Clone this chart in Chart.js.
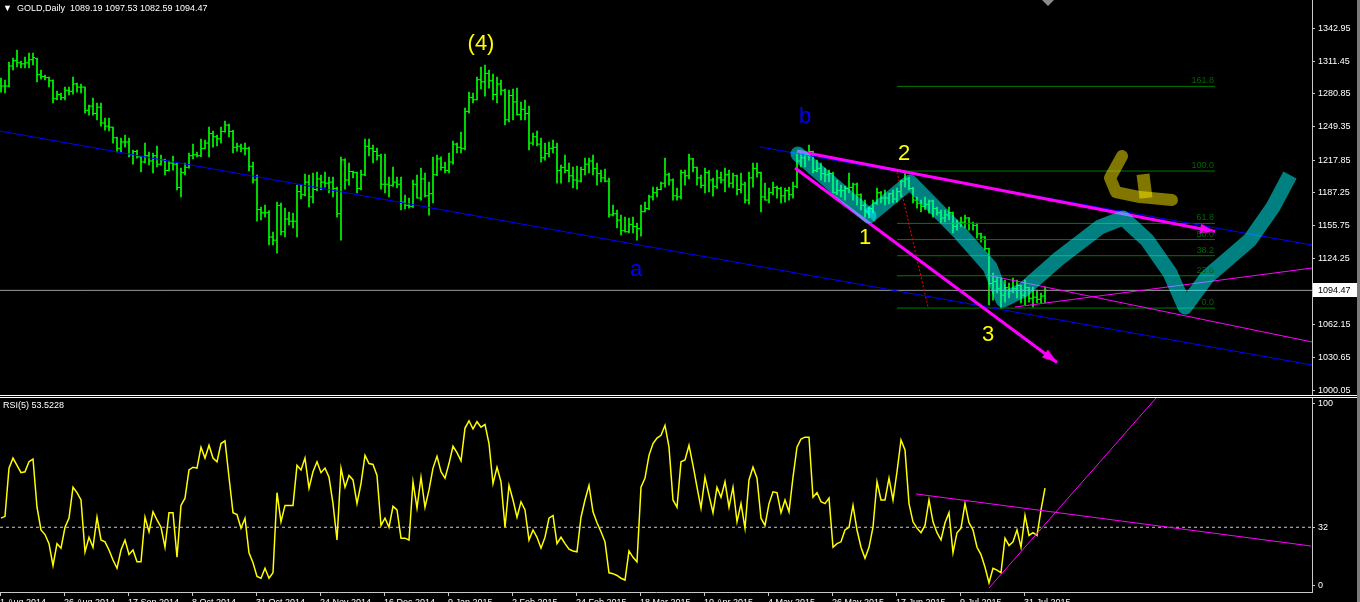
<!DOCTYPE html>
<html>
<head>
<meta charset="utf-8">
<title>GOLD Daily</title>
<script src="https://cdn.jsdelivr.net/npm/chart.js@4.4.0/dist/chart.umd.min.js"></script>
<style>
  html, body { margin: 0; padding: 0; background: #000; overflow: hidden; }
  #wrap { position: relative; width: 1360px; height: 602px; overflow: hidden; background: #000; }
  #mainBox { position: absolute; left: 0; top: 0; }
  #rsiBox { position: absolute; left: 0; top: 398px; }
  .sep { position: absolute; left: 0; width: 1357px; height: 1px; background: #fff; }
  .lbl { position: absolute; color: #fff; font: 9px "Liberation Sans", Arial, sans-serif; white-space: pre; }
  #edge { position: absolute; left: 1357px; top: 0; width: 3px; height: 602px; background: #7a7a7a; }
  #shift { position: absolute; left: 1042px; top: 0; width: 0; height: 0;
           border-left: 6px solid transparent; border-right: 6px solid transparent; border-top: 6px solid #8a8a8a; }
</style>
</head>
<body>
<div id="wrap">
  <div id="mainBox"><canvas id="mainChart" width="1360" height="395"></canvas></div>
  <div id="rsiBox"><canvas id="rsiChart" width="1360" height="215"></canvas></div>
  <div class="sep" style="top:395px"></div>
  <div class="sep" style="top:397px"></div>
  <div id="edge"></div>
  <div id="shift"></div>
  <div class="lbl" style="left:3px;top:3px;">▼  GOLD,Daily  1089.19 1097.53 1082.59 1094.47</div>
  <div class="lbl" style="left:3px;top:400px;">RSI(5) 53.5228</div>
</div>
<script>
// daily bars, 4 Aug 2014 .. 7 Aug 2015
const opens = [
  1293,1288,1288,1307,1312,1310,1309,1310,1313,1314,
  1299,1297,1296,1293,1276,1280,1277,1284,1283,1290,
  1287,1287,1265,1269,1262,1268,1253,1250,1249,1239,
  1229,1235,1235,1223,1226,1221,1216,1222,1217,1222,
  1214,1218,1208,1215,1214,1192,1206,1211,1222,1223,
  1222,1229,1234,1243,1240,1238,1245,1251,1245,1230,
  1231,1229,1229,1212,1199,1171,1168,1168,1145,1142,
  1175,1150,1162,1160,1160,1188,1185,1197,1183,1190,
  1200,1197,1196,1197,1191,1167,1218,1199,1207,1206,
  1191,1204,1231,1229,1226,1222,1195,1195,1194,1197,
  1195,1178,1175,1174,1195,1182,1200,1184,1186,1204,
  1219,1211,1208,1216,1233,1230,1229,1264,1277,1275,
  1294,1292,1300,1293,1280,1290,1284,1256,1279,1273,
  1261,1266,1262,1234,1240,1233,1220,1224,1229,1230,
  1208,1211,1208,1203,1199,1198,1209,1214,1217,1210,
  1205,1201,1198,1166,1167,1161,1151,1150,1157,1155,
  1153,1169,1172,1183,1187,1190,1196,1204,1199,1184,
  1183,1206,1203,1219,1211,1201,1194,1206,1199,1193,
  1201,1199,1204,1196,1203,1190,1195,1180,1201,1210,
  1206,1183,1180,1187,1192,1191,1184,1189,1185,1193,
  1217,1220,1223,1226,1208,1210,1205,1204,1205,1187,
  1189,1189,1191,1192,1195,1185,1175,1169,1172,1177,
  1187,1182,1182,1186,1181,1188,1198,1200,1191,1180,
  1177,1174,1176,1179,1172,1168,1163,1166,1168,1155,
  1158,1159,1163,1158,1156,1148,1145,1134,1101,1103,
  1096,1090,1097,1094,1096,1099,1090,1097,1087,1088,
  1086,1089.19
];
const highs = [
  1295.6,1293.7,1310.7,1314.5,1322.1,1311.7,1315.5,1319.3,1319.3,1314.5,
  1303.2,1298.4,1296.5,1293.9,1283.3,1281.4,1287.1,1287.1,1296.5,1290.9,
  1289.9,1287.1,1270.0,1276.6,1271.9,1271.9,1257.7,1257.7,1249.2,1239.7,
  1238.8,1241.6,1238.8,1227.4,1227.4,1221.5,1234.0,1225.5,1224.6,1231.2,
  1222.7,1218.9,1217.0,1221.7,1215.1,1210.3,1215.1,1224.6,1233.1,1225.5,
  1237.8,1236.9,1249.2,1245.4,1241.6,1249.2,1254.9,1252.0,1246.0,1234.0,
  1233.1,1234.0,1230.2,1216.0,1203.7,1173.4,1175.3,1170.0,1149.7,1178.1,
  1177.2,1172.4,1168.7,1167.7,1194.2,1194.2,1204.7,1203.7,1205.6,1206.6,
  1203.7,1206.6,1201.8,1201.8,1192.3,1220.8,1219.0,1215.1,1207.5,1206.6,
  1208.4,1237.8,1237.8,1232.1,1229.3,1223.6,1223.6,1201.8,1211.3,1201.8,
  1201.8,1184.8,1181.9,1199.0,1203.7,1210.3,1205.6,1197.1,1220.8,1222.7,
  1221.0,1216.0,1224.6,1235.9,1234.0,1244.4,1267.2,1282.3,1281.4,1296.5,
  1306.0,1307.9,1303.2,1299.4,1296.5,1293.7,1285.2,1284.2,1285.2,1286.1,
  1272.9,1274.8,1269.1,1243.5,1245.4,1238.8,1234.0,1235.0,1236.9,1234.0,
  1213.2,1222.7,1215.1,1211.3,1212.2,1211.3,1219.8,1219.8,1222.7,1215.1,
  1208.4,1209.4,1200.9,1175.3,1170.6,1165.8,1163.9,1163.0,1163.9,1158.3,
  1175.3,1178.1,1184.8,1192.3,1192.3,1197.1,1219.8,1205.6,1200.0,1191.4,
  1208.4,1208.4,1223.6,1219.5,1211.3,1203.7,1210.3,1208.0,1200.9,1208.4,
  1206.6,1210.3,1208.4,1205.6,1203.7,1205.6,1197.1,1206.6,1215.1,1215.1,
  1206.5,1196.1,1191.4,1197.1,1193.3,1192.3,1191.4,1192.3,1197.1,1224.6,
  1227.4,1224.6,1232.1,1226.5,1217.9,1215.1,1210.3,1208.4,1206.6,1199.0,
  1194.2,1193.3,1205.6,1196.0,1196.0,1186.0,1180.0,1173.4,1180.0,1191.4,
  1188.0,1189.5,1186.7,1189.5,1191.4,1199.0,1205.6,1201.8,1192.0,1182.9,
  1180.0,1182.9,1180.0,1180.0,1173.4,1170.6,1170.6,1173.4,1168.7,1161.1,
  1163.9,1165.8,1163.5,1159.2,1158.3,1148.8,1145.5,1134.6,1110.9,1107.1,
  1106.1,1104.3,1101.4,1106.1,1104.3,1099.5,1104.3,1097.6,1097.6,1094.8,
  1092.0,1097.53
];
const lows = [
  1282.3,1281.4,1287.1,1303.2,1306.0,1305.1,1305.1,1305.1,1307.9,1291.8,
  1294.6,1293.7,1287.1,1271.9,1274.8,1274.8,1274.8,1279.5,1280.4,1282.3,
  1281.4,1262.4,1260.5,1260.5,1255.8,1250.1,1246.3,1245.4,1234.0,1225.5,
  1225.5,1230.2,1220.8,1214.1,1219.8,1206.6,1215.1,1213.2,1205.6,1211.3,
  1213.0,1203.7,1207.5,1208.4,1189.5,1182.9,1203.7,1210.3,1218.9,1220.8,
  1221.0,1228.5,1220.8,1230.2,1231.2,1234.0,1244.4,1239.7,1224.6,1226.4,
  1225.5,1222.7,1207.5,1196.1,1160.1,1161.1,1164.0,1137.4,1137.4,1129.8,
  1146.9,1145.0,1156.4,1153.5,1145.0,1181.0,1184.0,1173.4,1177.2,1189.0,
  1189.5,1192.3,1186.7,1182.9,1163.9,1142.1,1190.4,1194.2,1200.9,1186.7,
  1189.5,1203.0,1221.7,1215.1,1217.9,1190.4,1186.7,1182.9,1193.0,1191.4,
  1170.6,1171.5,1172.4,1173.0,1181.9,1180.0,1183.0,1165.8,1177.2,1203.0,
  1208.4,1205.6,1205.6,1214.0,1224.6,1224.6,1227.4,1262.4,1271.9,1274.8,
  1285.2,1278.5,1286.1,1274.8,1271.9,1279.5,1251.1,1254.0,1255.8,1260.5,
  1255.8,1255.8,1227.4,1232.1,1231.2,1216.0,1217.9,1220.8,1224.6,1196.1,
  1196.1,1205.6,1197.1,1191.4,1190.4,1197.0,1203.7,1205.6,1203.7,1194.2,
  1197.1,1197.1,1163.9,1164.9,1153.5,1146.9,1149.7,1148.8,1148.8,1142.1,
  1145.9,1168.7,1171.0,1180.0,1182.9,1189.5,1192.3,1194.2,1180.0,1180.0,
  1181.0,1194.2,1200.0,1206.6,1194.2,1191.4,1186.7,1187.6,1183.8,1191.0,
  1196.1,1187.6,1192.3,1191.4,1184.8,1186.7,1177.2,1176.0,1192.3,1201.8,
  1168.7,1180.0,1177.2,1184.8,1181.9,1177.2,1178.1,1180.0,1181.9,1191.4,
  1211.3,1211.3,1217.9,1205.6,1206.6,1199.0,1197.1,1197.1,1186.7,1185.0,
  1182.9,1180.0,1186.7,1180.0,1175.3,1170.6,1163.9,1163.0,1167.7,1176.0,
  1177.2,1175.3,1176.3,1177.2,1178.1,1182.9,1192.3,1189.5,1177.2,1172.4,
  1168.7,1171.0,1167.7,1163.9,1165.8,1158.3,1159.2,1161.1,1148.8,1151.6,
  1154.5,1153.5,1151.6,1151.6,1144.0,1140.2,1132.7,1080.6,1085.3,1092.0,
  1077.7,1083.4,1087.2,1092.0,1087.2,1082.5,1080.6,1083.4,1078.7,1082.5,
  1082.5,1082.59
];
const closes = [
  1288,1288,1307,1312,1310,1309,1310,1313,1315,1299,
  1297,1296,1293,1276,1280,1277,1284,1283,1290,1287,
  1287,1265,1269,1262,1268,1253,1250,1249,1239,1229,
  1235,1235,1223,1226,1221,1216,1222,1217,1222,1214,
  1218,1208,1215,1214,1192,1206,1211,1222,1223,1222,
  1229,1234,1243,1240,1238,1245,1251,1245,1230,1231,
  1229,1229,1212,1199,1171,1168,1168,1145,1142,1175,
  1150,1162,1160,1160,1188,1185,1197,1183,1190,1200,
  1197,1196,1197,1191,1167,1218,1199,1207,1206,1191,
  1204,1231,1229,1226,1222,1195,1195,1194,1197,1195,
  1178,1175,1174,1195,1182,1200,1184,1186,1204,1219,
  1211,1208,1216,1233,1230,1229,1264,1277,1275,1294,
  1292,1300,1293,1280,1290,1284,1256,1279,1273,1261,
  1266,1262,1234,1240,1233,1220,1224,1229,1230,1208,
  1211,1208,1203,1199,1198,1209,1214,1217,1210,1205,
  1201,1198,1166,1167,1161,1151,1150,1157,1155,1153,
  1169,1172,1183,1187,1190,1196,1204,1199,1184,1183,
  1206,1203,1219,1211,1201,1194,1206,1199,1193,1201,
  1199,1204,1196,1203,1190,1195,1180,1201,1210,1206,
  1183,1180,1187,1192,1191,1184,1189,1185,1193,1217,
  1220,1223,1226,1208,1210,1205,1204,1205,1187,1189,
  1189,1191,1192,1195,1185,1175,1169,1172,1177,1187,
  1182,1182,1186,1181,1188,1198,1200,1191,1180,1177,
  1174,1176,1179,1172,1168,1163,1166,1168,1155,1158,
  1159,1163,1158,1156,1148,1145,1134,1101,1103,1096,
  1090,1097,1094,1096,1099,1090,1097,1087,1088,1086,
  1089,1094.47
];
const rsiValues = [
  37,38,64.5,70,66,62,62.5,68,69.5,43,
  30.5,28,23,11,23,20.5,32,37,54,51,
  47,18.5,26.5,21,37.5,25,24,19.5,14,9.5,
  19.5,25,17,19.5,13,13,37.5,29.5,40.5,36,
  32,21,40,40,15.5,44,48,63.5,65,64.5,
  76,70,77,70,68,78,79.5,59.5,40,39,
  31.5,37,18,12.5,5,4,9.5,4,7,51,
  35,44,44,44,66,63.5,70,53.5,62.5,68,
  62,64.5,59.5,45,25,64.5,54,60.5,58,45,
  56,71.5,67,66.5,60.5,33,37,32,43.5,41.5,
  26,26,25,57,42.5,59.5,43,52.5,64.5,71,
  62.5,59,67,76.5,73,68.5,86.5,90.5,86,90,
  87,88.5,78,56,65,57,32,55,47,37.5,
  46,41.5,25,30.5,26.5,20.5,26.5,37,38.5,23,
  26.5,23,20,19,18.5,37.5,47,55,40.5,34.5,
  29.5,24,7,6.5,5.5,4,3,19,15.5,13,
  54,59,71.5,78,81,82.5,88,76,47,43,
  68,69,77,66,54,42.5,59.5,49.5,40,54,
  48.5,57,43,54,35,45,31.5,58,65,59,
  37,33,45,51.5,51,40,47,40.5,59.5,76,
  80.5,81.5,81.5,48.5,51,46,45,48,21,23,
  24,30.5,32,44,30.5,21,15,21,32,57,
  47,47,59,47,62.5,80,74.5,45,35,31.5,
  29,33,47,35,29,25,34.5,40,18,29,
  31.5,45,34.5,30.5,21,17,10,1.5,9.5,8.5,
  7,26,22,24,30.5,21,38.5,27.5,29,27.5,
  41.5,53.5228
];

const dateLabels = ['1 Aug 2014','26 Aug 2014','17 Sep 2014','8 Oct 2014','31 Oct 2014',
  '24 Nov 2014','16 Dec 2014','9 Jan 2015','2 Feb 2015','24 Feb 2015','18 Mar 2015',
  '10 Apr 2015','4 May 2015','26 May 2015','17 Jun 2015','9 Jul 2015','31 Jul 2015'];
const priceTicks = [1342.95,1311.45,1280.85,1249.35,1217.85,1187.25,1155.75,1124.25,1062.15,1030.65,1000.05];
const rsiTicks = [0, 32, 100];
const rsiLevel = 32;

const fibLabels = ['0.0','23.6','38.2','50.0','61.8','100.0','161.8'];
const fibPrices = [1077.7,1108.3,1127.3,1142.6,1157.9,1207.5,1287.7];

// hand drawn objects, in bar index / price units
const fibFrom = 224, fibTo = 303.5;
const blueLineA = [{x:-0.25,y:1245.4},{x:327.75,y:1023.8}];
const blueLineB = [{x:189.75,y:1230.3},{x:327.75,y:1137.4}];
const arrowUp = [{x:199,y:1226.5},{x:303.5,y:1150.2}];
const arrowDown = [{x:198.5,y:1210.4},{x:264,y:1026.1}];
const thinTop = [{x:246.5,y:1109.0},{x:327.75,y:1045.6}];
const thinBottom = [{x:253.5,y:1078.7},{x:327.75,y:1115.6}];
const redDotted = [{x:224,y:1206.6},{x:231.75,y:1078.7}];
const tealA = [{x:199.25,y:1223.6},{x:217,y:1164.9}];
const tealB = [
  {x:217,y:1164.9},{x:227.25,y:1197.1},{x:239.75,y:1148.8},{x:247.25,y:1116.6},
  {x:250.5,y:1085.3},{x:255.5,y:1094.8},{x:264,y:1123.2},{x:274.75,y:1154.5},
  {x:280.5,y:1163.0},{x:286.5,y:1142.2},{x:292.25,y:1110.9},{x:296,y:1078.7},
  {x:301.5,y:1107.1},{x:312.25,y:1142.2},{x:318,y:1173.4},{x:322.25,y:1203.7}
];
const oliveA = [{x:280.25,y:1221.7},{x:277.25,y:1200.9},{x:278.75,y:1187.6},{x:284.75,y:1182.9},{x:292.75,y:1180.1}];
const oliveB = [{x:285.5,y:1204.5},{x:286.25,y:1182.0}];
const waveLabels = [
  {text:'(4)', x:120, y:1327.8, color:'#ffff00'},
  {text:'b', x:201, y:1258.7, color:'#0000ff'},
  {text:'a', x:158.75, y:1113.8, color:'#0000ff'},
  {text:'2', x:225.75, y:1223.6, color:'#ffff00'},
  {text:'1', x:216, y:1144.1, color:'#ffff00'},
  {text:'3', x:246.75, y:1052.2, color:'#ffff00'}
];
const rsiLineA = [{x:228.75,y:50.3},{x:327.5,y:21.7}];
const rsiLineB = [{x:247,y:-1.4},{x:289,y:103.6}];

const FONT = {family: '"Liberation Sans", Arial, sans-serif', size: 9};
const X_MIN = -0.25, X_MAX = 327.75;
const lastClose = closes[closes.length - 1];

function arrowImage() {
  const c = document.createElement('canvas');
  c.width = 10; c.height = 15;
  const g = c.getContext('2d');
  g.fillStyle = '#ff00ff';
  g.beginPath();
  g.moveTo(5, 0); g.lineTo(10, 15); g.lineTo(0, 15);
  g.closePath();
  g.fill();
  return c;
}
const arrowPic = arrowImage();

function line(data, color, width, extra) {
  return Object.assign({
    type: 'line', data: data, borderColor: color, borderWidth: width,
    pointRadius: 0, tension: 0, fill: false
  }, extra || {});
}

function rightAxis(ticksArr, min, max, fmt) {
  return {
    position: 'right', min: min, max: max, bounds: 'data',
    afterBuildTicks: s => { s.ticks = ticksArr.map(v => ({value: v})); },
    afterFit: s => { s.width = 48; s.paddingTop = 0; s.paddingBottom = 0; },
    ticks: { color: '#ffffff', font: FONT, padding: 3, callback: fmt },
    grid: { drawOnChartArea: false, drawTicks: true, tickLength: 3, color: '#c8c8c8' },
    border: { display: true, color: '#c8c8c8' }
  };
}

const mainText = {
  id: 'mainText',
  afterDatasetsDraw(chart) {
    const {ctx, scales: {x, y}} = chart;
    ctx.save();
    ctx.font = '9px "Liberation Sans", Arial, sans-serif';
    ctx.fillStyle = '#006400';
    ctx.textAlign = 'right';
    ctx.textBaseline = 'bottom';
    fibPrices.forEach((p, i) => {
      ctx.fillText(fibLabels[i], x.getPixelForValue(fibTo) - 1, y.getPixelForValue(p) - 1);
    });
    ctx.font = '22px "Liberation Sans", Arial, sans-serif';
    ctx.textAlign = 'center';
    ctx.textBaseline = 'middle';
    waveLabels.forEach(w => {
      ctx.fillStyle = w.color;
      ctx.fillText(w.text, x.getPixelForValue(w.x), y.getPixelForValue(w.y));
    });
    ctx.restore();
  },
  afterDraw(chart) {
    const {ctx, scales: {y}} = chart;
    const py = Math.round(y.getPixelForValue(lastClose));
    ctx.save();
    ctx.fillStyle = '#ffffff';
    ctx.fillRect(y.left + 1, py - 7, 45, 14);
    ctx.fillStyle = '#000000';
    ctx.font = '9px "Liberation Sans", Arial, sans-serif';
    ctx.textBaseline = 'middle';
    ctx.fillText(lastClose.toFixed(2), y.left + 6, py + 0.5);
    ctx.restore();
  }
};

const mainChart = new Chart(document.getElementById('mainChart'), {
  type: 'bar',
  data: {
    datasets: [
      line(oliveB, 'rgba(255,235,0,0.5)', 13, {borderCapStyle: 'butt'}),
      line(oliveA, 'rgba(255,235,0,0.5)', 12, {borderCapStyle: 'round', borderJoinStyle: 'round'}),
      line(tealB, 'rgba(0,255,255,0.5)', 15, {borderCapStyle: 'butt', borderJoinStyle: 'round'}),
      line(tealA, 'rgba(0,255,255,0.5)', 15, {borderCapStyle: 'round'}),
      {
        type: 'scatter',
        data: [{x:301.65,y:1151.5},{x:262.5,y:1030.4}],
        pointStyle: arrowPic, rotation: [100.8, 126.5], pointRadius: 7
      },
      line(arrowUp, '#ff00ff', 3),
      line(arrowDown, '#ff00ff', 3),
      line(thinTop, '#ff00ff', 1),
      line(thinBottom, '#ff00ff', 1),
      line(redDotted, '#ff0000', 1, {borderDash: [2, 2]}),
      line(blueLineA, '#0000ff', 1),
      line(blueLineB, '#0000ff', 1),
      ...fibPrices.map(p => line([{x: fibFrom, y: p}, {x: fibTo, y: p}], '#007a00', 1)),
      line([{x: X_MIN, y: lastClose}, {x: X_MAX, y: lastClose}], '#9a9a9a', 1),
      {
        type: 'scatter',
        data: opens.map((o, i) => ({x: i - 0.3, y: o})),
        pointStyle: 'line', pointRadius: 1, borderColor: '#00ff00', borderWidth: 1
      },
      {
        type: 'scatter',
        data: closes.map((c, i) => ({x: i + 0.3, y: c})),
        pointStyle: 'line', pointRadius: 1, borderColor: '#00ff00', borderWidth: 1
      },
      {
        type: 'bar',
        data: highs.map((h, i) => ({x: i, y: [lows[i], h]})),
        backgroundColor: '#00ff00', borderWidth: 0, barThickness: 1
      }
    ]
  },
  options: {
    responsive: false,
    animation: false,
    events: [],
    layout: { padding: 0, autoPadding: false },
    plugins: { legend: { display: false }, tooltip: { enabled: false } },
    scales: {
      x: { type: 'linear', min: X_MIN, max: X_MAX, offset: false, display: false },
      y: rightAxis(priceTicks, 995.36, 1369.5, v => v.toFixed(2))
    }
  },
  plugins: [mainText]
});

const rsiChart = new Chart(document.getElementById('rsiChart'), {
  type: 'line',
  data: {
    datasets: [
      line(rsiLineA, '#ff00ff', 1),
      line(rsiLineB, '#ff00ff', 1),
      line(rsiValues.map((v, i) => ({x: i, y: v})), '#ffff00', 1.5),
      line([{x: X_MIN, y: rsiLevel}, {x: X_MAX, y: rsiLevel}], '#c8c8c8', 1, {borderDash: [3, 3]})
    ]
  },
  options: {
    responsive: false,
    animation: false,
    events: [],
    layout: { padding: 0, autoPadding: false },
    plugins: { legend: { display: false }, tooltip: { enabled: false } },
    scales: {
      x: {
        type: 'linear', min: X_MIN, max: X_MAX, bounds: 'data',
        afterBuildTicks: s => { s.ticks = dateLabels.map((d, k) => ({value: k * 16 - 0.25})); },
        afterFit: s => { s.height = 21; s.paddingLeft = 0; s.paddingRight = 0; },
        ticks: {
          color: '#ffffff', font: FONT, padding: 1, align: 'start',
          autoSkip: false, maxRotation: 0,
          callback: (v, k) => dateLabels[k]
        },
        grid: { drawOnChartArea: false, drawTicks: true, tickLength: 4, color: '#c8c8c8' },
        border: { display: true, color: '#c8c8c8' }
      },
      y: rightAxis(rsiTicks, -3.57, 103.02, v => String(v))
    }
  }
});
</script>
</body>
</html>
